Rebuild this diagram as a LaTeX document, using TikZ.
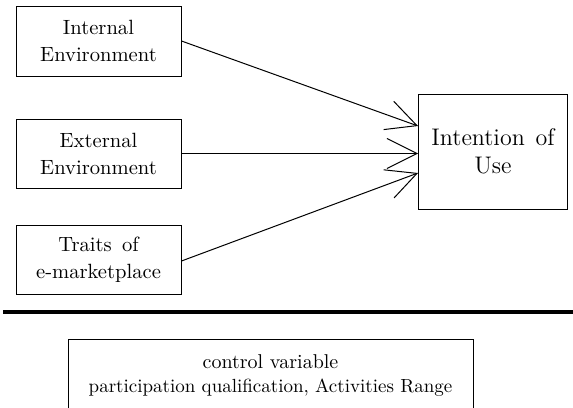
\documentclass[tikz,border=0pt]{standalone}
\usetikzlibrary{arrows.meta}
\begin{document}
\begin{tikzpicture}[x=0.5pt,y=-0.5pt,
  box/.style={draw,line width=0.5pt,rectangle,align=center,inner sep=0pt,font=\fontsize{10.3}{13.5}\selectfont},
  conn/.style={line width=0.5pt,-{Straight Barb[length=15pt,width=15pt,line width=0.5pt]}}]
\useasboundingbox (0,0) rectangle (573,407);
\clip (0,0) rectangle (573,407);
\node[box,minimum width=82.5pt,minimum height=35pt] (ie) at (98.5,41) {Internal\\Environment};
\node[box,minimum width=82.5pt,minimum height=34.5pt] (ee) at (98.5,153.5) {External\\Environment};
\node[box,minimum width=82.5pt,minimum height=34.5pt] (tm) at (98.5,259.5) {Traits\hspace{0.5em}of\\e-marketplace};
\node[box,minimum width=74.5pt,minimum height=57.5pt,font=\fontsize{12}{14}\selectfont] (use) at (493,151.5) {Intention\hspace{0.45em}of\\Use};
\draw[conn] (ie.east) -- ([yshift=12.75pt]use.west);
\draw[conn] (ee.east) -- (ee.east -| use.west);
\draw[conn] ([yshift=-0.75pt]tm.east) -- ([yshift=-10.75pt]use.west);
\coordinate (l1) at (3,312);
\coordinate (l2) at (573,312);
\draw[line width=1.6pt] (l1) -- (l2);
\node[box,minimum width=202.5pt,minimum height=37pt,font=\fontsize{10}{12}\selectfont] (ctrl) at (270.5,376) {control variable\\{\fontsize{9.5}{12}\selectfont participation qualification, Activities Range}};
\end{tikzpicture}
\end{document}
